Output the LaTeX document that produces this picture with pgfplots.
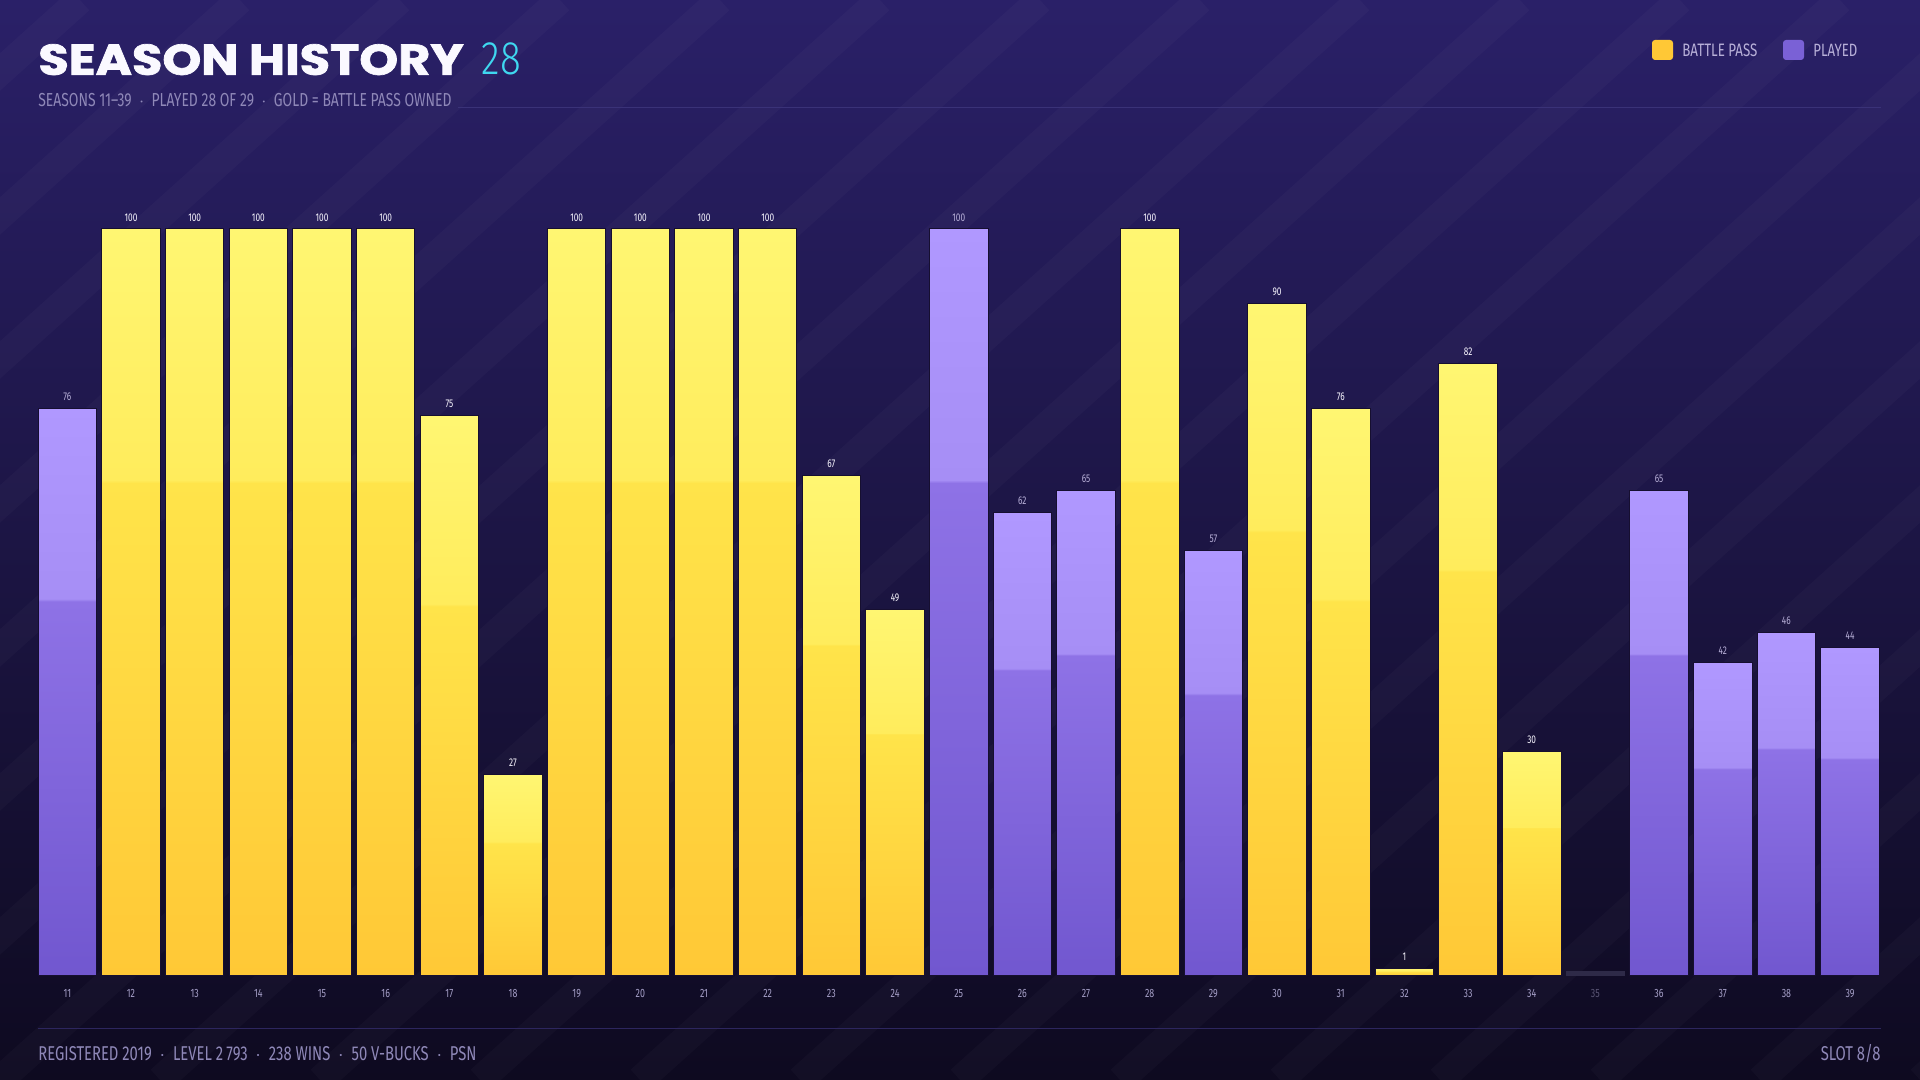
\documentclass[border=0pt]{standalone}
\usepackage{pgfplots}
\pgfplotsset{compat=1.18}
\usepackage{fontspec}
\setmainfont{Fira Sans}
\newfontfamily\cond[FakeStretch=0.74]{Fira Sans}
\newfontfamily\condlight[FakeStretch=0.82]{Fira Sans Light}
\newfontfamily\titlefont[BoldFeatures={FakeBold=1.6}]{Poppins}
\definecolor{bgtop}{HTML}{2A2068}
\definecolor{bgbot}{HTML}{0E0A20}
\definecolor{goldtop}{HTML}{FFF672}
\definecolor{goldhigh}{HTML}{FFEC5C}
\definecolor{goldlow}{HTML}{FFE44A}
\definecolor{goldbot}{HTML}{FFC836}
\definecolor{purtop}{HTML}{B098FF}
\definecolor{purhigh}{HTML}{A68EF5}
\definecolor{purlow}{HTML}{8E72E6}
\definecolor{purbot}{HTML}{7157CF}
\definecolor{missed}{HTML}{2E2A48}
\definecolor{ticktxt}{HTML}{A49EC6}
\definecolor{subtxt}{HTML}{8F88B8}
\definecolor{cyanish}{HTML}{3FD8F0}
\definecolor{lavlabel}{HTML}{B8B0D8}
\definecolor{sepline}{HTML}{3A3278}
\definecolor{baredge}{HTML}{160F30}
\pgfdeclareverticalshading{goldbar}{100bp}{color(0bp)=(goldbot); color(25bp)=(goldbot); color(58bp)=(goldlow); color(58.2bp)=(goldhigh); color(75bp)=(goldtop); color(100bp)=(goldtop)}
\pgfdeclareverticalshading{purbar}{100bp}{color(0bp)=(purbot); color(25bp)=(purbot); color(58bp)=(purlow); color(58.2bp)=(purhigh); color(75bp)=(purtop); color(100bp)=(purtop)}
\pgfplotsset{
  goldb/.style={ybar, bar shift=0pt, draw=baredge, line width=0.5pt, shade, shading=goldbar,
    every node near coord/.append style={text=white!92!purtop}},
  purb/.style={ybar, bar shift=0pt, draw=baredge, line width=0.5pt, shade, shading=purbar,
    every node near coord/.append style={text=lavlabel}},
}
\begin{document}
\begin{tikzpicture}
% background
\shade[top color=bgtop, bottom color=bgbot] (0pt,0pt) rectangle (960pt,540pt);
\begin{scope}
\clip (0pt,0pt) rectangle (960pt,540pt);
\foreach \i in {-560,-480,...,960}{
  \draw[white, opacity=0.025, line width=14pt] (\i pt,0pt) -- ++(600pt,540pt);
}
\end{scope}
% separator lines
\draw[sepline, line width=0.5pt] (229pt,486pt) -- (940.5pt,486pt);
\draw[sepline!70!bgbot, line width=0.5pt] (19pt,25.5pt) -- (940.5pt,25.5pt);
% title
\node[anchor=base west, inner sep=0pt, text=white!94!purtop] at (19pt,502.6pt) {\scalebox{1.15}[1]{\titlefont\bfseries\fontsize{21.5}{24}\selectfont SEASON HISTORY}};
\node[anchor=base west, inner sep=0pt, text=cyanish] at (240.7pt,502.6pt) {\condlight\fontsize{23.5}{26}\selectfont 28};
% subtitle
\node[anchor=base west, inner sep=0pt, text=subtxt] at (19pt,486.5pt) {\cond\fontsize{9.4}{11}\selectfont SEASONS 11–39 \ $\cdot$\ \ PLAYED 28 OF 29 \ $\cdot$\ \ GOLD = BATTLE PASS OWNED};
% legend
\fill[goldbot, rounded corners=1.5pt] (826pt,510pt) rectangle (836.5pt,520pt);
\node[anchor=west, inner sep=0pt, text=lavlabel] at (841pt,515pt) {\cond\fontsize{9}{10}\selectfont BATTLE PASS};
\fill[purbot!85!purtop, rounded corners=1.5pt] (891.5pt,510pt) rectangle (902pt,520pt);
\node[anchor=west, inner sep=0pt, text=lavlabel] at (906.5pt,515pt) {\cond\fontsize{8.9}{10}\selectfont PLAYED};
% footer
\node[anchor=base west, inner sep=0pt, text=subtxt] at (19pt,9.5pt) {\cond\fontsize{10}{12}\selectfont REGISTERED 2019 \ $\cdot$\ \ LEVEL 2\,793 \ $\cdot$\ \ 238 WINS \ $\cdot$\ \ 50 V-BUCKS \ $\cdot$\ \ PSN};
\node[anchor=base east, inner sep=0pt, text=subtxt] at (940.5pt,9.5pt) {\cond\fontsize{10}{12}\selectfont SLOT 8/8};
\begin{axis}[
  at={(19.35pt,52pt)}, anchor=south west,
  scale only axis, width=920pt, height=373.5pt,
  xmin=10.55, xmax=39.45, ymin=0, ymax=100,
  clip=false,
  axis line style={draw=none},
  major tick length=0pt,
  ytick=\empty,
  xtick={11,...,39},
  xticklabels={11,12,13,14,15,16,17,18,19,20,21,22,23,24,25,26,27,28,29,30,31,32,33,34,{\textcolor{ticktxt!50!bgbot}{35}},36,37,38,39},
  xticklabel style={text=ticktxt, font=\cond\fontsize{6}{7}\selectfont, yshift=-3.2pt},
  bar width=0.92,
  nodes near coords,
  /pgf/number format/assume math mode=true,
  every node near coord/.append style={font=\cond\fontsize{5.6}{6}\selectfont, anchor=south, yshift=0.3pt},
]
% played, battle pass owned (gold)
\addplot[goldb] coordinates {(12,100)};
\addplot[goldb] coordinates {(13,100)};
\addplot[goldb] coordinates {(14,100)};
\addplot[goldb] coordinates {(15,100)};
\addplot[goldb] coordinates {(16,100)};
\addplot[goldb] coordinates {(17,75)};
\addplot[goldb] coordinates {(18,27)};
\addplot[goldb] coordinates {(19,100)};
\addplot[goldb] coordinates {(20,100)};
\addplot[goldb] coordinates {(21,100)};
\addplot[goldb] coordinates {(22,100)};
\addplot[goldb] coordinates {(23,67)};
\addplot[goldb] coordinates {(24,49)};
\addplot[goldb] coordinates {(28,100)};
\addplot[goldb] coordinates {(30,90)};
\addplot[goldb] coordinates {(31,76)};
\addplot[goldb] coordinates {(32,1)};
\addplot[goldb] coordinates {(33,82)};
\addplot[goldb] coordinates {(34,30)};
% played only (purple)
\addplot[purb] coordinates {(11,76)};
\addplot[purb] coordinates {(25,100)};
\addplot[purb] coordinates {(26,62)};
\addplot[purb] coordinates {(27,65)};
\addplot[purb] coordinates {(29,57)};
\addplot[purb] coordinates {(36,65)};
\addplot[purb] coordinates {(37,42)};
\addplot[purb] coordinates {(38,46)};
\addplot[purb] coordinates {(39,44)};
% not played
\addplot[ybar, bar shift=0pt, draw=none, fill=missed, nodes near coords=\empty]
coordinates {(35,0.7)};
\end{axis}
\end{tikzpicture}
\end{document}
